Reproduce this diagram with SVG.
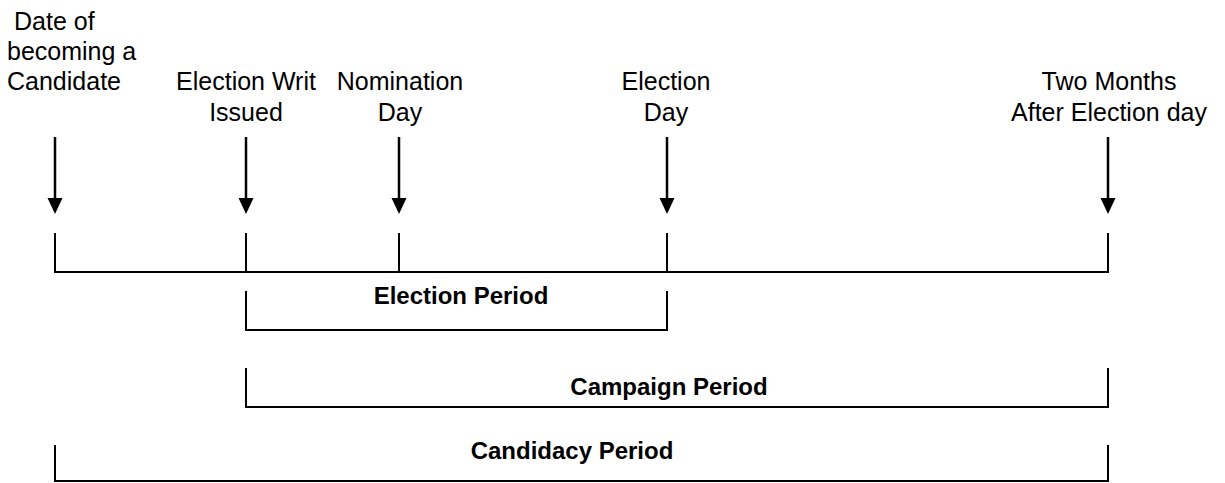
<svg xmlns="http://www.w3.org/2000/svg" width="1225" height="483" viewBox="0 0 1225 483">
<style>
.lbl{font-family:"Liberation Sans",Arial,sans-serif;font-size:25px;fill:#000;text-anchor:middle}
.per{font-family:"Liberation Sans",Arial,sans-serif;font-size:24px;font-weight:bold;fill:#000;text-anchor:middle}
.ln{stroke:#000;stroke-width:2;fill:none}
.sh{stroke:#000;stroke-width:2.5;fill:none}
.hd{fill:#000}
</style>
<defs>
<g id="arrow"><line class="sh" x1="0" y1="137" x2="0" y2="200"/><polygon class="hd" points="-7.5,198 7.5,198 0,214"/></g>
</defs>
<rect width="1225" height="483" fill="#fff"/>
<g id="n-candidate">
<text class="lbl" style="text-anchor:start" x="14" y="30">Date of</text>
<text class="lbl" style="text-anchor:start" x="7" y="60">becoming a</text>
<text class="lbl" style="text-anchor:start" x="7" y="90">Candidate</text>
</g>
<g id="n-writ">
<text class="lbl" x="246" y="90">Election Writ</text>
<text class="lbl" x="246" y="121">Issued</text>
</g>
<g id="n-nomination">
<text class="lbl" x="400" y="90">Nomination</text>
<text class="lbl" x="400" y="121">Day</text>
</g>
<g id="n-election">
<text class="lbl" x="666" y="90">Election</text>
<text class="lbl" x="666" y="121">Day</text>
</g>
<g id="n-twomonths">
<text class="lbl" x="1109" y="90">Two Months</text>
<text class="lbl" x="1109" y="121">After Election day</text>
</g>
<g id="connectors">
<use href="#arrow" x="55"/>
<use href="#arrow" x="246"/>
<use href="#arrow" x="399"/>
<use href="#arrow" x="667"/>
<use href="#arrow" x="1108"/>
<path class="ln" d="M55,233V272H1108V233M246,233V272M399,233V272M667,233V272"/>
<path class="ln" d="M246,291V330H667V291"/>
<path class="ln" d="M246,368V407H1108V368"/>
<path class="ln" d="M55,445V481H1108V445"/>
</g>
<g id="periods">
<text class="per" x="461" y="304">Election Period</text>
<text class="per" x="669" y="395">Campaign Period</text>
<text class="per" x="572" y="459">Candidacy Period</text>
</g>
</svg>
